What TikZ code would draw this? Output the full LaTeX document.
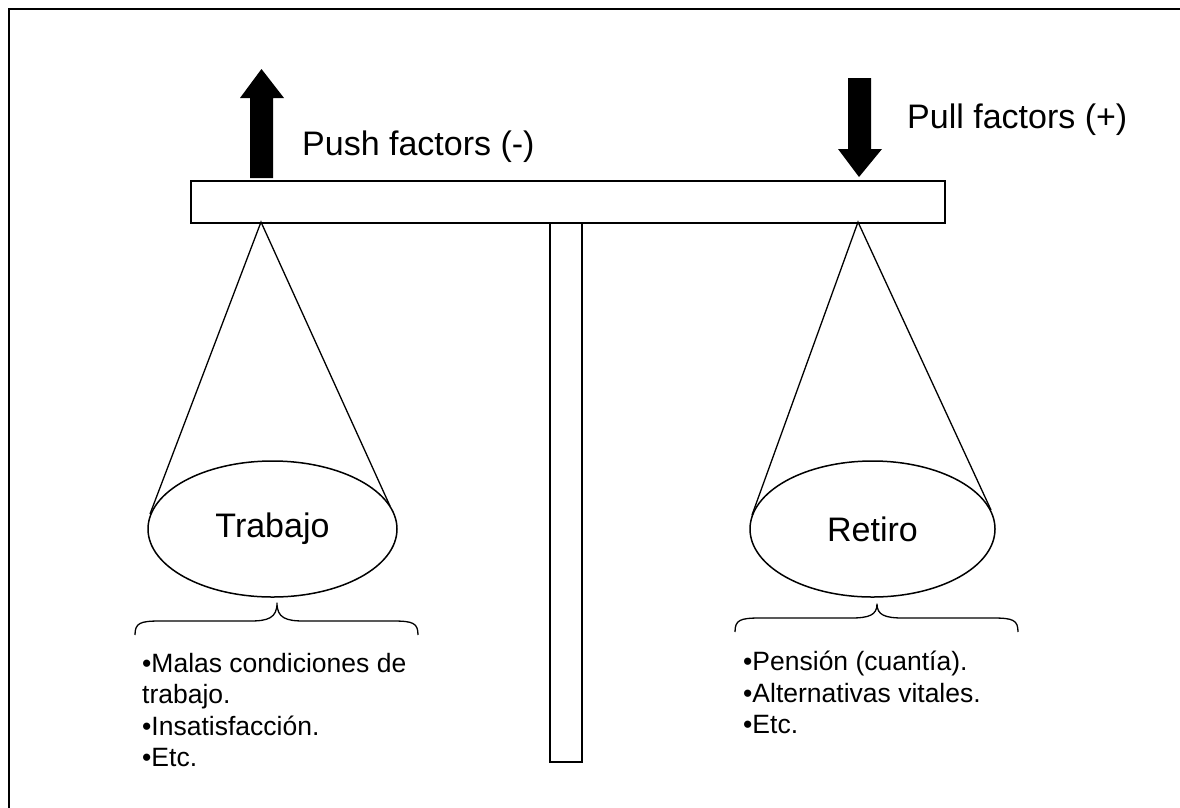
\documentclass[tikz,border=0pt]{standalone}
\usepackage{fontspec}
\setmainfont{Liberation Sans}
\usetikzlibrary{shapes.geometric}
\begin{document}
\begin{tikzpicture}[x=1pt,y=-1pt,
  frame/.style={draw=black,line width=2pt},
  bar/.style={draw=black,line width=2pt,fill=white},
  rope/.style={draw=black,line width=1.3pt},
  pan/.style={draw=black,line width=1.5pt,ellipse,inner sep=0pt,
              font=\fontsize{34}{40}\selectfont},
  bigarrow/.style={fill=black,draw=none},
  brace/.style={draw=black,line width=1.3pt,line join=round},
  force/.style={anchor=base west,inner sep=0pt,font=\fontsize{34}{40}\selectfont},
  items/.style={anchor=north west,inner sep=0pt,align=left,
                font=\fontsize{26.5}{31.5}\selectfont}]
\useasboundingbox (0,0) rectangle (1180,807);
\clip (0,0) rectangle (1180,807);
\fill[white] (0,0) rectangle (1180,807);

% outer frame (runs off the right and bottom edges)
\draw[frame] (9,9) rectangle (1195,820);

% central post and beam
\draw[bar] (550,222) rectangle (582,762);
\node[bar,rectangle,minimum width=754pt,minimum height=42pt,inner sep=0pt,anchor=north west] (beam) at (190,180) {};

% hanging points on the beam
\coordinate (hookL) at (261,222);
\coordinate (hookR) at (858,222);

% pans
\node[pan,minimum width=249pt,minimum height=136pt] (trabajo) at (272.5,529) {Trabajo};
\node[pan,minimum width=245pt,minimum height=136pt] (retiro) at (872.5,529) {Retiro};

% tangent points of the cords
\coordinate (tLa) at (150,514);
\coordinate (tLb) at (390,506);
\coordinate (tRa) at (752,515);
\coordinate (tRb) at (991,510);
\draw[rope] (tLa) -- (hookL) -- (tLb);
\draw[rope] (tRa) -- (hookR) -- (tRb);

% push arrow (up) and pull arrow (down)
\fill[bigarrow] (250,178) -- (250,98) -- (240,98) -- (261.5,69) -- (284,98) -- (273,98) -- (273,178) -- cycle;
\fill[bigarrow] (848,78) -- (848,149) -- (838,149) -- (859,177) -- (882,149) -- (871,149) -- (871,78) -- cycle;

\node[force] (push) at (302,155) {Push factors (-)};
\node[force] (pull) at (907,128) {Pull factors (+)};

% braces under the pans
\draw[brace] (135,635) .. controls (135,623) and (140,621) .. (160,621)
  -- (250,621) .. controls (268,621) and (277,618) .. (277,603)
  .. controls (277,618) and (286,621) .. (304,621)
  -- (393,621) .. controls (413,621) and (418,623) .. (418,635);
\draw[brace] (735,632) .. controls (735,620) and (740,618) .. (760,618)
  -- (851,618) .. controls (869,618) and (877,615) .. (877,604)
  .. controls (877,615) and (885,618) .. (903,618)
  -- (993,618) .. controls (1013,618) and (1018,620) .. (1018,632);

% factor lists
\node[items] (listL) at (142,653) {•Malas condiciones de\\trabajo.\\•Insatisfacción.\\•Etc.};
\node[items] (listR) at (743,651) {•Pensión (cuantía).\\•Alternativas vitales.\\•Etc.};
\end{tikzpicture}
\end{document}
